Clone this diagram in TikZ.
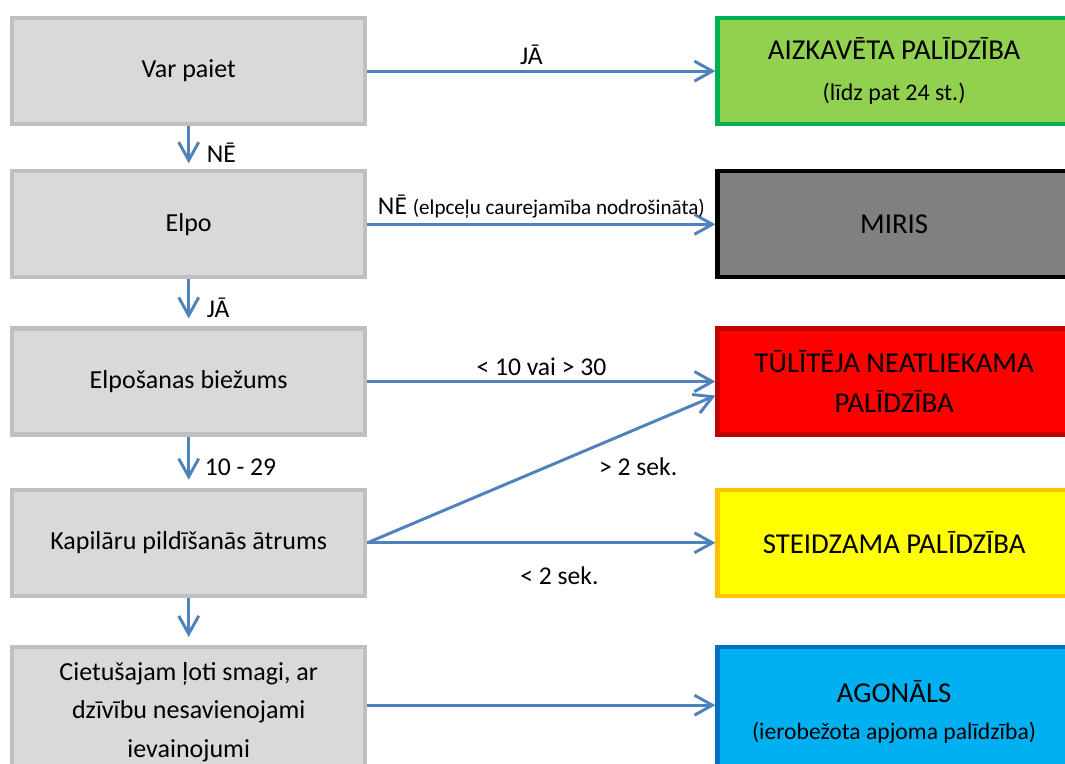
\documentclass[tikz,border=0pt]{standalone}
\usepackage{fontspec}
\setmainfont{Carlito}
\usepackage{tikz}
\usetikzlibrary{arrows.meta,positioning}
\definecolor{BoxGray}{HTML}{D9D9D9}
\definecolor{EdgeGray}{HTML}{BFBFBF}
\definecolor{ArrowBlue}{HTML}{4F81BD}
\definecolor{DelayGreen}{HTML}{92D050}
\definecolor{DelayEdge}{HTML}{00B050}
\definecolor{DeadGray}{HTML}{808080}
\definecolor{UrgentRed}{HTML}{FF0000}
\definecolor{UrgentEdge}{HTML}{C00000}
\definecolor{SoonYellow}{HTML}{FFFF00}
\definecolor{SoonEdge}{HTML}{FFC000}
\definecolor{AgonBlue}{HTML}{00B0F0}
\definecolor{AgonEdge}{HTML}{0070C0}

\begin{document}
\begin{tikzpicture}[
    font=\fontsize{18.5}{27.5}\selectfont, % main text in the boxes
    check/.style={draw=EdgeGray, fill=BoxGray, line width=3pt, align=center, minimum width=8.83cm, minimum height=2.65cm},
    triage/.style={line width=3pt, align=center, minimum width=8.83cm, minimum height=2.65cm, font=\fontsize{20.5}{28}\selectfont},
    lbl/.style={font=\fontsize{18.2}{22}\selectfont},
    arr/.style={-{Straight Barb[length=4.5mm,width=5mm]}, line width=2.1pt, draw=ArrowBlue}
]
\useasboundingbox (0,0) rectangle (26.625,-19.075);

% left column: the checks, top to bottom
\node[check, anchor=north west] (walk) at (0.25,-0.4) {Var paiet};
\node[check, below=1.075cm of walk] (breath) {Elpo};
\node[check, below=1.175cm of breath] (rate) {Elpošanas biežums};
\node[check, below=1.275cm of rate] (refill) {Kapilāru pildīšanās ātrums};
\node[check, below=1.175cm of refill, minimum height=3.25cm] (fatal) {Cietušajam ļoti smagi, ar\\dzīvību nesavienojami\\ievainojumi};

% right column: triage categories, same rows
\node[triage, fill=DelayGreen, draw=DelayEdge, right=8.7cm of walk] (delay) {AIZKAVĒTA PALĪDZĪBA\\[1pt]{\fontsize{17}{20}\selectfont (līdz pat 24 st.)}};
\node[triage, fill=DeadGray, draw=black, right=8.7cm of breath] (dead) {MIRIS};
\node[triage, fill=UrgentRed, draw=UrgentEdge, right=8.7cm of rate] (urgent) {TŪLĪTĒJA NEATLIEKAMA\\PALĪDZĪBA};
\node[triage, fill=SoonYellow, draw=SoonEdge, right=8.7cm of refill] (soon) {STEIDZAMA PALĪDZĪBA};
\node[triage, fill=AgonBlue, draw=AgonEdge, right=8.7cm of fatal, minimum height=3.25cm] (agonal) {AGONĀLS\\[-2pt]{\fontsize{16.8}{20}\selectfont (ierobežota apjoma palīdzība)}};
\coordinate (urgentlow) at ([yshift=-0.35cm]urgent.west);

% horizontal outcomes
\draw[arr] (walk) -- node[lbl, above, xshift=-0.25cm]{JĀ} (delay);
\draw[arr] (breath) -- node[lbl, above]{NĒ {\fontsize{15}{18}\selectfont (elpceļu caurejamība nodrošināta)}} (dead);
\draw[arr] (rate) -- node[lbl, above]{< 10 vai > 30} (urgent);
\draw[arr] (refill.east) -- node[lbl, pos=0.7, anchor=north west, xshift=-0.45cm, yshift=-0.3cm]{> 2 sek.} (urgentlow);
\draw[arr] (refill) -- node[lbl, below, xshift=0.45cm, yshift=-0.45cm]{< 2 sek.} (soon);
\draw[arr] ([yshift=0.17cm]fatal.east) -- ([yshift=0.17cm]agonal.west);

% downward steps
\draw[arr, shorten >=0.15cm] (walk) -- node[lbl, right, xshift=0.3cm, yshift=-0.12cm]{NĒ} (breath);
\draw[arr, shorten >=0.2cm] (breath) -- node[lbl, right, xshift=0.3cm, yshift=-0.12cm]{JĀ} (rate);
\draw[arr, shorten >=0.2cm] (rate) -- node[lbl, right, xshift=0.25cm, yshift=-0.12cm]{10 - 29} (refill);
\draw[arr, shorten >=0.2cm] (refill) -- (fatal);

\end{tikzpicture}
\end{document}
